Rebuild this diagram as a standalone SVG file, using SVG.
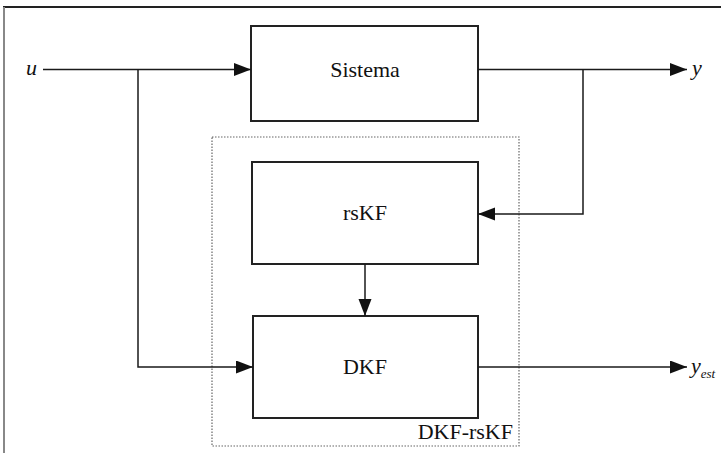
<svg xmlns="http://www.w3.org/2000/svg" width="721" height="453" viewBox="0 0 721 453">
<style>
.box{fill:#fff;stroke:#222;stroke-width:2}
.wire{fill:none;stroke:#1a1a1a;stroke-width:1.5}
.lbl{font-family:'Liberation Serif','DejaVu Serif',serif;font-size:22px;fill:#111}
.it{font-style:italic}
</style>
<defs>
<marker id="ah" markerUnits="userSpaceOnUse" markerWidth="18" markerHeight="14" refX="17" refY="6.5" orient="auto">
<path d="M0,0 L17,6.5 L0,13 Z" fill="#111"/>
</marker>
</defs>
<rect width="721" height="453" fill="#fff"/>
<line x1="3" y1="7" x2="721" y2="7" stroke="#222" stroke-width="2"/>
<line x1="4" y1="7" x2="4" y2="453" stroke="#888" stroke-width="2"/>
<g id="group-dkf-rskf">
<rect x="212" y="137" width="307" height="309" fill="none" stroke="#666" stroke-width="1.2" stroke-dasharray="1.5,1.5"/>
<text class="lbl" font-family="Liberation Serif, serif" x="513" y="439" text-anchor="end">DKF-rsKF</text>
</g>
<g id="sistema">
<rect class="box" x="251" y="26" width="227" height="95"/>
<text class="lbl" font-family="Liberation Serif, serif" x="365" y="77" text-anchor="middle">Sistema</text>
</g>
<g id="rskf">
<rect class="box" x="252" y="162" width="226" height="102"/>
<text class="lbl" font-family="Liberation Serif, serif" x="365" y="220" text-anchor="middle">rsKF</text>
</g>
<g id="dkf">
<rect class="box" x="253" y="316" width="225" height="102"/>
<text class="lbl" font-family="Liberation Serif, serif" x="365" y="374" text-anchor="middle">DKF</text>
</g>
<g id="connectors">
<line class="wire" x1="43" y1="69.5" x2="251" y2="69.5" marker-end="url(#ah)"/>
<polyline class="wire" points="138,69.5 138,367 253,367" marker-end="url(#ah)"/>
<line class="wire" x1="478" y1="69.5" x2="687" y2="69.5" marker-end="url(#ah)"/>
<polyline class="wire" points="583,69.5 583,214 478,214" marker-end="url(#ah)"/>
<line class="wire" x1="365" y1="264" x2="365" y2="316" marker-end="url(#ah)"/>
<line class="wire" x1="478" y1="367" x2="687" y2="367" marker-end="url(#ah)"/>
</g>
<g id="labels">
<text class="lbl it" font-family="Liberation Serif, serif" x="26" y="75">u</text>
<text class="lbl it" font-family="Liberation Serif, serif" x="692" y="75">y</text>
<text class="lbl it" font-family="Liberation Serif, serif" x="691" y="373">y<tspan font-size="13" dy="5">est</tspan></text>
</g>
</svg>
